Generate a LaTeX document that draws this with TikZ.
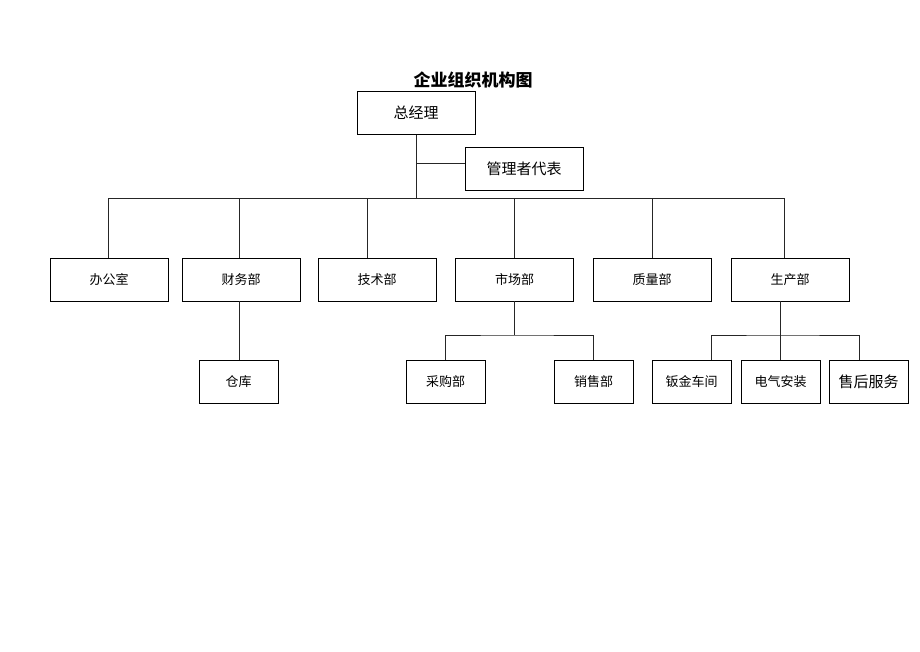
\documentclass[tikz,border=0pt]{standalone}
\usepackage{fontspec}
\setmainfont{Noto Sans CJK SC}
\usepackage{tikz}
\usepackage{xcolor}
\tikzset{
    org-box/.style = {draw=black, fill=white, line width=0.7pt, rectangle, minimum width=118pt, minimum height=43pt, inner sep=0pt, font=\fontsize{13}{15}\selectfont},
    small-box/.style = {org-box, minimum width=79pt},
    big-text/.style = {font=\fontsize{15}{18}\selectfont},
    org-title/.style = {font=\fontsize{17}{20}\selectfont\bfseries},
    org-line/.style = {draw=black!85, line width=0.7pt},
}

\begin{document}
\begin{tikzpicture}[x=1pt,y=-1pt]
\useasboundingbox (0,0) rectangle (920,651);
\node[org-title] (title) at (473,80) {企业组织机构图};
\node[org-box, big-text] (gm) at (416,113) {总经理};
\node[org-box, big-text] (rep) at (524,168.5) {管理者代表};
\coordinate (bus) at (416,198);
\coordinate (repjoin) at ([yshift=5pt]rep.west);
% level 2
\node[org-box] (office) at (109,279.5) {办公室};
\node[org-box] (finance) at (241,279.5) {财务部};
\node[org-box] (tech) at (377,279.5) {技术部};
\node[org-box] (market) at (514.5,279.5) {市场部};
\node[org-box] (quality) at (652,279.5) {质量部};
\node[org-box] (prod) at (790,279.5) {生产部};
% level 3
\node[small-box] (store) at (238.5,381.5) {仓库};
\node[small-box] (purchase) at (445.5,381.5) {采购部};
\node[small-box] (sales) at (593.5,381.5) {销售部};
\node[small-box] (sheet) at (691.5,381.5) {钣金车间};
\node[small-box] (elec) at (780.5,381.5) {电气安装};
\node[small-box, big-text] (service) at (868.5,381.5) {售后服务};
\coordinate (subbus) at (515,335);

\draw[org-line] (gm.south) -- (bus);
\draw[org-line] (gm.south |- repjoin) -- (repjoin);
\draw[org-line] ([xshift=-1pt]office.north |- bus) -- ([xshift=-6pt]prod.north |- bus);
\draw[org-line] ([xshift=-1pt]office.north |- bus) -- ([xshift=-1pt]office.north);
\draw[org-line] ([xshift=-2pt]finance.north |- bus) -- ([xshift=-2pt]finance.north);
\draw[org-line] ([xshift=-10pt]tech.north |- bus) -- ([xshift=-10pt]tech.north);
\draw[org-line] (market.north |- bus) -- (market.north);
\draw[org-line] (quality.north |- bus) -- (quality.north);
\draw[org-line] ([xshift=-6pt]prod.north |- bus) -- ([xshift=-6pt]prod.north);
% sub levels
\draw[org-line] ([xshift=-2pt]finance.south) -- ([xshift=-2pt]finance.south |- store.north);
\draw[org-line] (market.south) -- (market.south |- subbus);
\draw[org-line] (purchase.north) |- (subbus) -| (sales.north);
\draw[org-line] (elec.north |- prod.south) -- (elec.north);
\draw[org-line] ([xshift=20pt]sheet.north) |- (elec.north |- subbus) -| ([xshift=-9pt]service.north);
\end{tikzpicture}
\end{document}
